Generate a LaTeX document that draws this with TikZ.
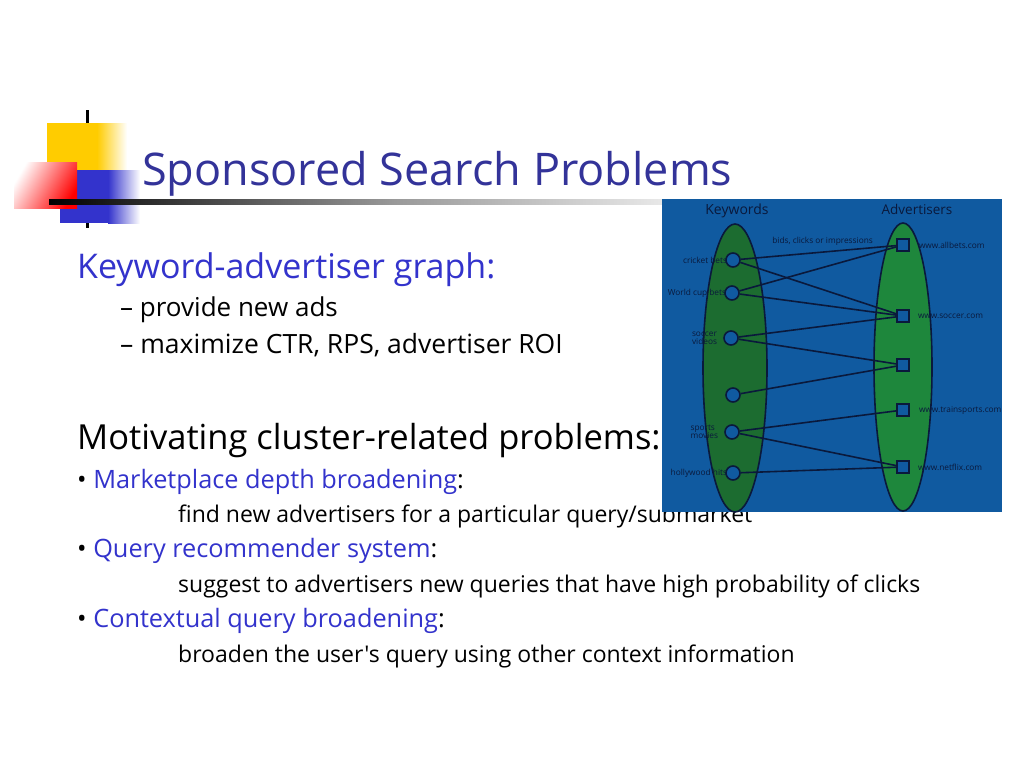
\documentclass[tikz,border=0pt]{standalone}
\usepackage{fontspec}
\setmainfont{Open Sans}[Ligatures=TeXOff]
\usepackage{xcolor}
\usetikzlibrary{positioning}
\definecolor{titleblue}{RGB}{51,51,153}
\definecolor{itemblue}{RGB}{51,51,204}
\definecolor{logoyellow}{RGB}{255,204,0}
\definecolor{logoblue}{RGB}{51,51,204}
\definecolor{boardblue}{RGB}{16,90,160}
\definecolor{kwgreen}{RGB}{28,108,48}
\definecolor{adgreen}{RGB}{30,135,60}
\definecolor{inkblue}{RGB}{10,25,60}
\newcommand{\fsz}[1]{\fontsize{#1}{#1}\selectfont}

\begin{document}
\begin{tikzpicture}[x=1pt,y=-1pt,
  txt/.style={anchor=base west,inner sep=0pt},
  kw/.style={circle,draw=inkblue,line width=1.6pt,fill=boardblue,minimum size=14pt,inner sep=0pt},
  ad/.style={rectangle,draw=inkblue,line width=1.6pt,fill=boardblue,minimum size=12pt,inner sep=0pt},
  lbl/.style={font=\fsz{8.3},text=inkblue,inner sep=0pt},
  edge/.style={draw=inkblue,line width=1.6pt}]
  \useasboundingbox[fill=white] (0,0) rectangle (1024,768);
  % logo
  \draw[line width=3pt] (87,110) -- (87,228);
  \fill[logoyellow] (47,123) rectangle (97,170);
  \shade[left color=logoyellow,right color=white] (97,123) rectangle (127,170);
  \fill[logoblue] (60,170) rectangle (108,223);
  \shade[left color=logoblue,right color=white] (108,170) rectangle (140,223);
  \shade[left color=white,right color=red,shading angle=60] (14,162) rectangle (77,208);
  \shade[left color=black,right color=white,middle color=gray!80] (49,199) rectangle (740,204);
  % slide text
  \node[txt,text=titleblue,font=\fsz{45}] (title) at (142,185) {Sponsored Search Problems};
  \node[txt,text=itemblue,font=\fsz{34}] (graphhead) at (77,278) {Keyword-advertiser graph:};
  \node[txt,font=\fsz{26}] (newads) at (120,316) {– provide new ads};
  \node[txt,font=\fsz{26.5}] (maxctr) at (120,353) {– maximize CTR, RPS, advertiser ROI};
  \node[txt,font=\fsz{34.5}] (motiv) at (77,449) {Motivating cluster-related problems:};
  \node[txt,font=\fsz{25.3}] (market) at (77,488) {\textbullet\ \textcolor{itemblue}{Marketplace depth broadening}:};
  \node[txt,font=\fsz{23}] (marketdesc) at (178,522) {find new advertisers for a particular query/submarket};
  \node[txt,font=\fsz{25.3}] (recomm) at (77,557) {\textbullet\ \textcolor{itemblue}{Query recommender system}:};
  \node[txt,font=\fsz{23}] (recommdesc) at (178,592) {suggest to advertisers new queries that have high probability of clicks};
  \node[txt,font=\fsz{25.3}] (context) at (77,627) {\textbullet\ \textcolor{itemblue}{Contextual query broadening}:};
  \node[txt,font=\fsz{23}] (contextdesc) at (178,662) {broaden the user's query using other context information};
  % keyword-advertiser graph
  \fill[boardblue] (662,199) rectangle (1002,512);
  \begin{scope}
    \clip (662,199) rectangle (1002,512);
    \draw[fill=kwgreen,line width=1.6pt,draw=inkblue] (735,368) ellipse [x radius=32,y radius=144];
    \draw[fill=adgreen,line width=1.6pt,draw=inkblue] (903,367) ellipse [x radius=29,y radius=144];
  \end{scope}
  \node[text=inkblue,font=\fsz{14},inner sep=0pt] (kwhead) at (737,211) {Keywords};
  \node[text=inkblue,font=\fsz{13.5},inner sep=0pt] (adhead) at (917,209) {Advertisers};
  \node[kw] (cricket) at (733,260) {};
  \node[kw] (worldcup) at (732,293) {};
  \node[kw] (soccervid) at (731,338) {};
  \node[kw] (blank) at (733,395) {};
  \node[kw] (movies) at (732,432) {};
  \node[kw] (hollywood) at (733,473) {};
  \node[ad] (allbets) at (903,245) {};
  \node[ad] (soccer) at (903,316) {};
  \node[ad] (adthree) at (903,365) {};
  \node[ad] (trainsports) at (903,410) {};
  \node[ad] (netflix) at (903,467) {};
  \node[lbl,anchor=east] (cricketlbl) at ([xshift=2pt]cricket.west) {cricket bets};
  \node[lbl,anchor=east] (worldcuplbl) at ([xshift=2pt]worldcup.west) {World cup bets};
  \node[lbl,align=left,left=6pt of soccervid] (soccervidlbl) {soccer\\videos};
  \node[lbl,align=left,left=6pt of movies] (movieslbl) {sports\\movies};
  \node[lbl,anchor=east] (hollywoodlbl) at ([xshift=2pt]hollywood.west) {hollywood hits};
  \node[lbl,right=9pt of allbets] (allbetslbl) {www.allbets.com};
  \node[lbl,right=8pt of soccer] (soccerlbl) {www.soccer.com};
  \node[lbl,right=9pt of trainsports] (trainsportslbl) {www.trainsports.com};
  \node[lbl,right=8pt of netflix] (netflixlbl) {www.netflix.com};
  \node[lbl,anchor=east] (bidslbl) at (873,241) {bids, clicks or impressions};
  \draw[edge] (cricket) -- (allbets);
  \draw[edge] (cricket) -- (soccer);
  \draw[edge] (worldcup) -- (allbets);
  \draw[edge] (worldcup) -- (soccer);
  \draw[edge] (soccervid) -- (soccer);
  \draw[edge] (soccervid) -- (adthree);
  \draw[edge] (blank) -- (adthree);
  \draw[edge] (movies) -- (trainsports);
  \draw[edge] (movies) -- (netflix);
  \draw[edge] (hollywood) -- (netflix);
\end{tikzpicture}
\end{document}
